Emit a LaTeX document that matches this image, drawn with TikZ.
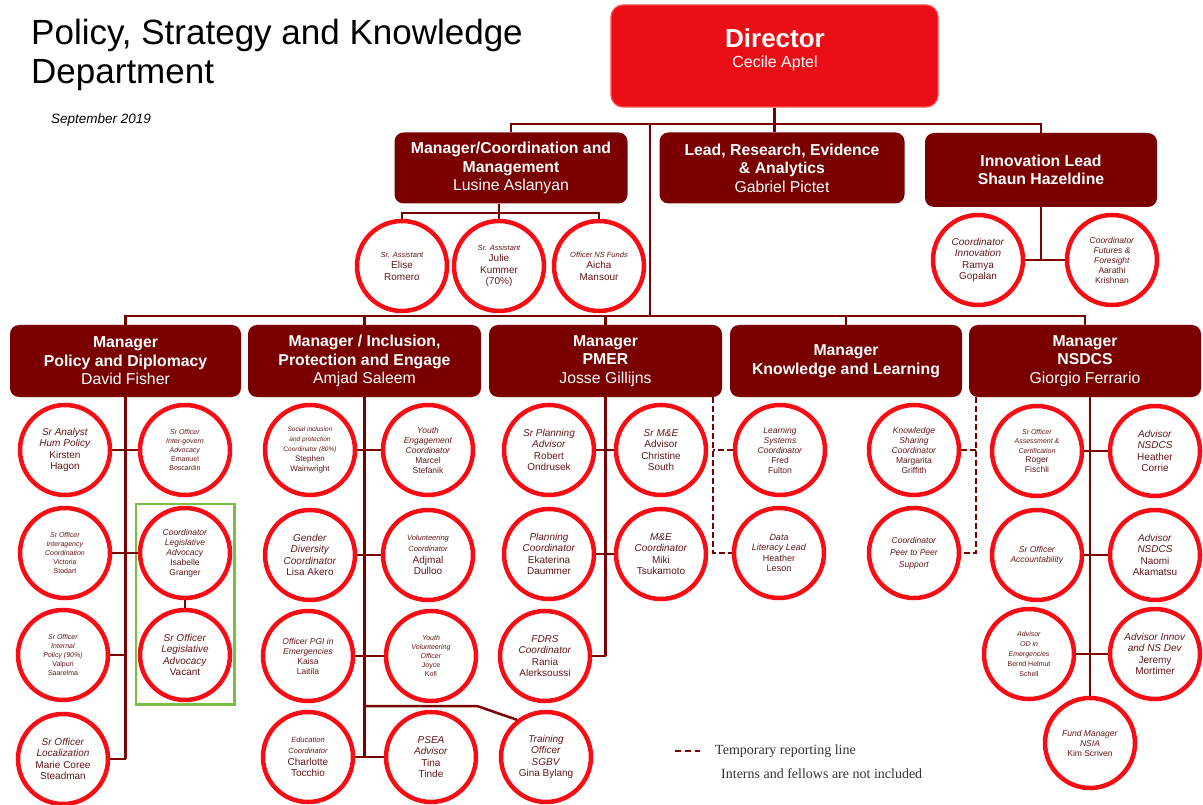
\documentclass[tikz,border=0pt]{standalone}
\usepackage{fontspec}
\setmainfont{Liberation Sans}
\newfontfamily\legfont{Liberation Serif}
\usetikzlibrary{fit}

\definecolor{maroon}{RGB}{122,0,0}
\definecolor{ringred}{RGB}{250,12,20}
\definecolor{dirred}{RGB}{236,14,22}
\definecolor{dirline}{RGB}{255,80,80}
\definecolor{ptext}{RGB}{100,22,26}
\definecolor{legreen}{RGB}{122,190,70}

\newcommand{\rl}[1]{\textit{#1}}
\newcommand{\rls}[1]{{\fontsize{7.5}{9}\selectfont\itshape #1}}
\newcommand{\pname}[1]{{\mdseries #1}}

\tikzset{
  link/.style={draw=maroon, line width=2.5pt},
  temp/.style={draw=maroon, line width=2.5pt, dash pattern=on 6pt off 3pt},
  mbox/.style={rectangle, rounded corners=9pt, fill=maroon, text=white, align=center,
    inner sep=2pt, minimum width=232pt, minimum height=72pt,
    font=\fontsize{15.8}{18.5}\selectfont\bfseries},
  person/.style={circle, draw=ringred, line width=4.5pt, fill=white, minimum size=90pt,
    inner sep=0pt, align=center, text=ptext, font=\fontsize{10}{11.5}\selectfont},
  personm/.style={person, font=\fontsize{8.5}{10}\selectfont},
  persons/.style={person, font=\fontsize{7}{9}\selectfont},
}

\begin{document}
\begin{tikzpicture}[x=1pt, y=-1pt]
\useasboundingbox (0,0) rectangle (1203,805);

% Title
\node[anchor=base west, inner sep=0pt, font=\fontsize{35}{40}\selectfont] (title1) at (31,45) {Policy, Strategy and Knowledge};
\node[anchor=base west, inner sep=0pt, font=\fontsize{35}{40}\selectfont] (title2) at (31,84) {Department};
\node[anchor=west, inner sep=0pt, font=\itshape\fontsize{13.5}{15}\selectfont] (date) at (51,120) {September 2019};

% Director
\node[rectangle, rounded corners=12pt, fill=dirred, draw=dirline, line width=1.2pt,
  minimum width=327pt, minimum height=102pt] (dir) at (774.5,56) {};
\node[text=white, font=\fontsize{26}{28}\selectfont\bfseries] (dirtitle) at (775,38) {Director};
\node[text=white, font=\fontsize{16}{18}\selectfont] (dirname) at (775,63) {Cecile Aptel};

% Second level
\node[mbox, minimum width=233pt, minimum height=71pt] (coord) at (511,168) {Manager/Coordination and\\Management\\\pname{Lusine Aslanyan}};
\node[mbox, minimum width=245pt, minimum height=71pt] (lead) at (782,168) {Lead, Research, Evidence\\\& Analytics\\\pname{Gabriel Pictet}};
\node[mbox, minimum width=232pt, minimum height=74pt] (innov) at (1041,170) {Innovation Lead\\Shaun Hazeldine};

\node[person] (elise) at (402,266) {\rls{Sr. Assistant}\\Elise\\Romero};
\node[person] (julie) at (499,266) {\rls{Sr. Assistant}\\Julie\\Kummer\\(70\%)};
\node[person] (aicha) at (599,266) {\rls{Officer NS Funds}\\Aicha\\Mansour};
\node[person] (ramya) at (978,260) {\rl{Coordinator}\\\rl{Innovation}\\Ramya\\Gopalan};
\node[personm] (aarathi) at (1112,260) {\rl{Coordinator}\\\rl{Futures \&}\\\rl{Foresight}\\Aarathi\\Krishnan};

% Managers
\node[mbox, minimum width=231pt] (mpol) at (125.5,361) {Manager\\Policy and Diplomacy\\\pname{David Fisher}};
\node[mbox, minimum width=233pt] (minc) at (364.5,361) {Manager / Inclusion,\\Protection and Engage\\\pname{Amjad Saleem}};
\node[mbox, minimum width=233pt] (mpmer) at (605.5,361) {Manager\\PMER\\\pname{Josse Gillijns}};
\node[mbox, minimum width=232pt] (mknow) at (846,361) {Manager\\Knowledge and Learning};
\node[mbox, minimum width=232pt] (mnsd) at (1085,361) {Manager\\NSDCS\\\pname{Giorgio Ferrario}};

% Policy and Diplomacy
\node[person] (kirsten) at (65,450) {\rl{Sr Analyst}\\\rl{Hum Policy}\\Kirsten\\Hagon};
\node[persons] (emanuel) at (185,450) {\rl{Sr Officer}\\\rl{Inter-govern}\\\rl{Advocacy}\\Emanuel\\Boscardin};
\node[persons] (victoria) at (65,553) {\rl{Sr Officer}\\\rl{Interagency}\\\rl{Coordination}\\Victoria\\Stodart};
\node[personm] (isabelle) at (185,553) {\rl{Coordinator}\\\rl{Legislative}\\\rl{Advocacy}\\Isabelle\\Granger};
\node[persons] (valpuri) at (63,655) {\rl{Sr Officer}\\\rl{Internal}\\\rl{Policy (90\%)}\\Valpuri\\Saarelma};
\node[person] (vacant) at (185,655) {\rl{Sr Officer}\\\rl{Legislative}\\\rl{Advocacy}\\Vacant};
\node[person] (marie) at (63,759) {\rl{Sr Officer}\\\rl{Localization}\\Marie Coree\\Steadman};
\node[draw=legreen, line width=2.5pt, inner sep=2pt, fit=(isabelle)(vacant)] (legbox) {};

% Inclusion, Protection and Engage
\node[person, font=\fontsize{8}{10}\selectfont] (stephen) at (310,450) {{\fontsize{6.5}{8}\selectfont\itshape Social inclusion}\\{\fontsize{6.5}{8}\selectfont\itshape and protection}\\{\fontsize{6.5}{8}\selectfont\itshape Coordinator (80\%)}\\Stephen\\Wainwright};
\node[personm] (marcel) at (428,450) {\rl{Youth}\\\rl{Engagement}\\\rl{Coordinator}\\Marcel\\Stefanik};
\node[person] (lisa) at (310,555) {\rl{Gender}\\\rl{Diversity}\\\rl{Coordinator}\\Lisa Akero};
\node[person] (adjmal) at (428,555) {\rls{Volunteering}\\\rls{Coordinator}\\Adjmal\\Dulloo};
\node[personm] (kaisa) at (308,656) {\rl{Officer PGI in}\\\rl{Emergencies}\\Kaisa\\Laitila};
\node[persons] (joyce) at (431,656) {\rl{Youth}\\\rl{Volunteering}\\\rl{Officer}\\Joyce\\Kofi};
\node[person] (charlotte) at (308,757) {\rls{Education}\\\rls{Coordinator}\\Charlotte\\Tocchio};
\node[person] (tina) at (431,757) {\rl{PSEA}\\\rl{Advisor}\\Tina\\Tinde};
\node[person] (gina) at (546,757) {\rl{Training}\\\rl{Officer}\\\rl{SGBV}\\Gina Bylang};

% PMER
\node[person] (robert) at (549,450) {\rl{Sr Planning}\\\rl{Advisor}\\Robert\\Ondrusek};
\node[person] (christine) at (661,450) {\rl{Sr M\&E}\\Advisor\\Christine\\South};
\node[person] (ekaterina) at (549,554) {\rl{Planning}\\\rl{Coordinator}\\Ekaterina\\Daummer};
\node[person] (miki) at (661,554) {\rl{M\&E}\\\rl{Coordinator}\\Miki\\Tsukamoto};
\node[person] (rania) at (545,656) {\rl{FDRS}\\\rl{Coordinator}\\Rania\\Alerksoussi};

% Knowledge and Learning
\node[personm] (fred) at (780,450) {\rl{Learning}\\\rl{Systems}\\\rl{Coordinator}\\Fred\\Fulton};
\node[personm, font=\fontsize{9}{10.5}\selectfont] (heatherl) at (779,553) {\rl{Data}\\\rl{Literacy Lead}\\Heather\\Leson};
\node[personm] (margarita) at (914,450) {\rl{Knowledge}\\\rl{Sharing}\\\rl{Coordinator}\\Margarita\\Griffith};
\node[personm, font=\fontsize{8.5}{12}\selectfont] (peer) at (914,553) {\rl{Coordinator}\\\rl{Peer to Peer}\\\rl{Support}};

% NSDCS
\node[persons, font=\fontsize{7}{9.5}\selectfont] (roger) at (1037,451) {\rl{Sr Officer}\\\rl{Assessment \&}\\\rl{Certification}\\{\fontsize{8.5}{9.5}\selectfont Roger}\\{\fontsize{8.5}{9.5}\selectfont Fischli}};
\node[person] (heatherc) at (1155,451) {\rl{Advisor}\\\rl{NSDCS}\\Heather\\Corrie};
\node[personm] (account) at (1037,555) {\rl{Sr Officer}\\\rl{Accountability}};
\node[person] (naomi) at (1155,555) {\rl{Advisor}\\\rl{NSDCS}\\Naomi\\Akamatsu};
\node[persons, font=\fontsize{7}{10}\selectfont] (bernd) at (1029,654) {\rl{Advisor}\\\rl{OD in}\\\rl{Emergencies}\\Bernd Helmut\\Schell};
\node[person] (jeremy) at (1155,654) {\rl{Advisor Innov}\\\rl{and NS Dev}\\Jeremy\\Mortimer};
\node[personm] (kim) at (1090,743) {\rl{Fund Manager}\\\rl{NSIA}\\Kim Scriven};

% Top connectors
\coordinate (bar) at (650,124);
\coordinate (hub) at (650,316);
\coordinate (csub) at (499,213);
\draw[link] (dir.south) -- (dir.south |- lead.north);
\draw[link] (coord.north) |- (bar) -| (innov.north);
\draw[link] (bar) -- (hub);
\draw[link] (mpol.north) |- (hub) -| (mnsd.north);
\draw[link] (minc.north) -- (minc.north |- hub);
\draw[link] (mpmer.north) -- (mpmer.north |- hub);
\draw[link] (mknow.north) -- (mknow.north |- hub);
\draw[link] (elise.north) |- (csub) -| (aicha.north);
\draw[link] (coord.south -| csub) -- (julie.north);
\draw[link] (innov.south) -- (innov.south |- ramya.east);
\draw[link] (ramya.east) -- (aarathi.west);

% Policy and Diplomacy connectors
\draw[link] (mpol.south) -- (mpol.south |- marie.east);
\draw[link] (kirsten.east) -- (emanuel.west);
\draw[link] (victoria.east) -- (isabelle.west);
\draw[link] (valpuri.east) -- (valpuri.east -| mpol.south);
\draw[link] (marie.east) -- (marie.east -| mpol.south);
\draw[link] (isabelle.south) -- (vacant.north);

% Inclusion connectors
\coordinate (tbend) at (477,706);
\draw[link] (minc.south) -- (minc.south |- tina.west);
\draw[link] (stephen.east) -- (marcel.west);
\draw[link] (lisa.east) -- (adjmal.west);
\draw[link] (kaisa.east) -- (joyce.west);
\draw[link] (charlotte.east) -- (tina.west);
\draw[link] (minc.south |- tbend) -- (tbend) -- (gina.128);

% PMER connectors
\draw[link] (mpmer.south) -- (mpmer.south |- rania.east);
\draw[link] (robert.east) -- (christine.west);
\draw[link] (ekaterina.east) -- (miki.west);
\draw[link] (rania.east) -- (rania.east -| mpmer.south);

% Temporary reporting lines
\coordinate (d1) at ([xshift=-9pt]mpmer.south east);
\coordinate (d2) at ([xshift=7pt]mnsd.south west);
\draw[temp] (d1) |- (heatherl.west);
\draw[temp] (fred.west) -- (fred.west -| d1);
\draw[temp] (d2) |- (peer.east);
\draw[temp] (margarita.east) -- (margarita.east -| d2);

% NSDCS connectors
\draw[link] (kim.north |- mnsd.south) -- (kim.north);
\draw[link] (roger.east) -- (heatherc.west);
\draw[link] (account.east) -- (naomi.west);
\draw[link] (bernd.east) -- (jeremy.west);

% Legend
\coordinate (lg1) at (675,751);
\coordinate (lg2) at (700,751);
\draw[temp, dash pattern=on 6pt off 4pt] (lg1) -- (lg2);
\node[anchor=west, inner sep=0pt, text=black!80, font=\legfont\fontsize{14}{16}\selectfont] (legtemp) at (715,751) {Temporary reporting line};
\node[anchor=west, inner sep=0pt, text=black!80, font=\legfont\fontsize{14}{16}\selectfont] (legnote) at (721,774) {Interns and fellows are not included};

\end{tikzpicture}
\end{document}
